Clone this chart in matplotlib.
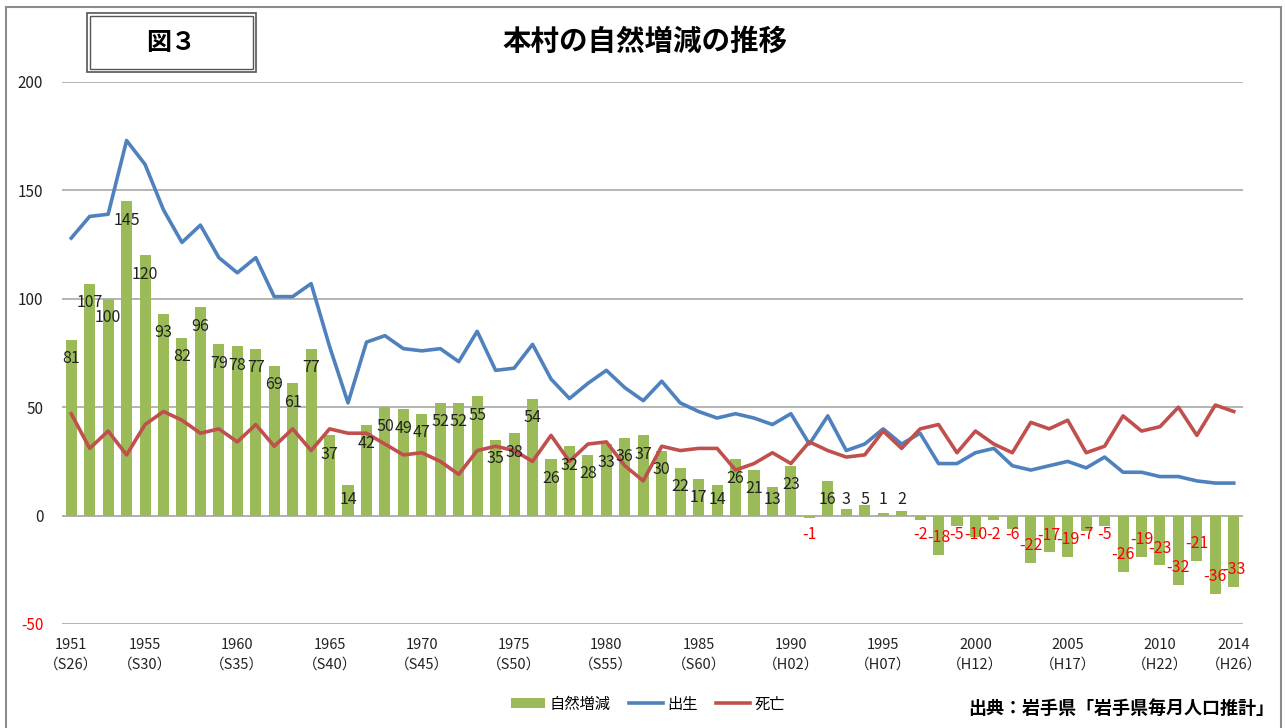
"""Natural population change chart (births, deaths, natural increase)."""

import matplotlib

matplotlib.use("Agg")

import matplotlib.pyplot as plt  # noqa: E402
from matplotlib.patches import Rectangle  # noqa: E402
from matplotlib.lines import Line2D  # noqa: E402
from matplotlib.patches import Patch  # noqa: E402

plt.rcParams["font.family"] = ["Noto Sans CJK JP", "DejaVu Sans"]

years = list(range(1951, 2015))
natural = [
    81, 107, 100, 145, 120, 93, 82, 96, 79, 78, 77, 69, 61, 77,
    37, 14, 42, 50, 49, 47, 52, 52, 55, 35, 38, 54, 26, 32, 28, 33,
    36, 37, 30, 22, 17, 14, 26, 21, 13, 23, -1, 16, 3, 5, 1, 2,
    -2, -18, -5, -10, -2, -6, -22, -17, -19, -7, -5, -26, -19, -23,
    -32, -21, -36, -33,
]
births = [
    128, 138, 139, 173, 162, 141, 126, 134, 119, 112, 119, 101, 101, 107,
    78, 52, 80, 83, 77, 76, 77, 71, 85, 67, 68, 79, 63, 54, 61, 67,
    59, 53, 62, 52, 48, 45, 47, 45, 42, 47, 33, 46, 30, 33, 40, 33,
    38, 24, 24, 29, 31, 23, 21, 23, 25, 22, 27, 20, 20, 18,
    18, 16, 15, 15,
]
deaths = [
    47, 31, 39, 28, 42, 48, 44, 38, 40, 34, 42, 32, 40, 30,
    40, 38, 38, 33, 28, 29, 25, 19, 30, 32, 30, 25, 37, 25, 33, 34,
    23, 16, 32, 30, 31, 31, 21, 24, 29, 24, 34, 30, 27, 28, 39, 31,
    40, 42, 29, 39, 33, 29, 43, 40, 44, 29, 32, 46, 39, 41,
    50, 37, 51, 48,
]
tick_years = [1951, 1955, 1960, 1965, 1970, 1975, 1980, 1985, 1990, 1995,
              2000, 2005, 2010, 2014]
tick_eras = ["S26", "S30", "S35", "S40", "S45", "S50", "S55", "S60", "H02",
             "H07", "H12", "H17", "H22", "H26"]
y_ticks = [-50, 0, 50, 100, 150, 200]

GREEN = "#9BBB59"
BLUE = "#4F81BD"
RED = "#C0504D"

fig = plt.figure(figsize=(12.85, 7.28), dpi=100)
W, H = 1285, 728
ax = fig.add_axes([62 / W, 1 - 624 / H, (1243 - 62) / W, (624 - 82) / H])

ax.bar(years, natural, width=0.6, color=GREEN, zorder=2)
ax.plot(years, births, color=BLUE, linewidth=2.6, zorder=3)
ax.plot(years, deaths, color=RED, linewidth=2.6, zorder=3)

for year, value in zip(years, natural):
    if value >= 0:
        ax.text(year, max(value - 8.7, 7.4), str(value), ha="center", va="center",
                fontsize=11.5, color="#222222", zorder=4)
    else:
        ax.text(year, min(value + 8.0, -8.8), str(value), ha="center", va="center",
                fontsize=11.5, color="#FF0000", zorder=4)

ax.set_xlim(1950.5, 2014.5)
ax.set_ylim(-50, 200)
ax.set_yticks(y_ticks)
ax.set_yticklabels([str(v) for v in y_ticks], fontsize=11)
for label, value in zip(ax.get_yticklabels(), y_ticks):
    label.set_color("#FF0000" if value < 0 else "#222222")
ax.set_xticks(tick_years)
ax.set_xticklabels([f"{y}\n（{e}）" for y, e in zip(tick_years, tick_eras)],
                   fontsize=10.5, linespacing=1.5, color="#222222")
ax.tick_params(axis="both", length=0)
ax.tick_params(axis="y", pad=13.5)
ax.tick_params(axis="x", pad=10)
ax.grid(axis="y", color="#a0a0a0", linewidth=1.1, zorder=0)
ax.set_axisbelow(True)
ax.axhline(0, color="#b0b0b0", linewidth=1.2, zorder=1)
for spine in ax.spines.values():
    spine.set_visible(False)

# title and figure number box
fig.text(645 / W, 1 - 42 / H, "本村の自然増減の推移", ha="center", va="center",
         fontsize=20.5, fontweight="bold")
fig.patches.append(Rectangle((87 / W, 1 - 72 / H), 169 / W, 59 / H, fill=False,
                             edgecolor="#555555", linewidth=1.2,
                             transform=fig.transFigure, figure=fig))
fig.patches.append(Rectangle((90 / W, 1 - 69 / H), 163 / W, 53 / H, fill=False,
                             edgecolor="#555555", linewidth=1.0,
                             transform=fig.transFigure, figure=fig))
fig.text(171 / W, 1 - 43 / H, "図３", ha="center", va="center",
         fontsize=18, fontweight="bold")

# outer frame
fig.patches.append(Rectangle((6 / W, -0.01), 1275 / W, 1 - 7 / H + 0.01, fill=False,
                             edgecolor="#8c8c8c", linewidth=1.5,
                             transform=fig.transFigure, figure=fig))

handles = [
    Patch(facecolor=GREEN, edgecolor="none"),
    Line2D([], [], color=BLUE, linewidth=2.6),
    Line2D([], [], color=RED, linewidth=2.6),
]
fig.legend(handles, ["自然増減", "出生", "死亡"], loc="center",
           bbox_to_anchor=(648 / W, 1 - 704 / H), ncol=3, frameon=False,
           fontsize=11, handlelength=2.2, handletextpad=0.3, columnspacing=1.2,
           handleheight=0.6)

fig.text(1274 / W, 1 - 708 / H, "出典：岩手県「岩手県毎月人口推計」", ha="right",
         va="center", fontsize=13, fontweight="bold")

fig.savefig("out.png", dpi=100)
plt.close(fig)
